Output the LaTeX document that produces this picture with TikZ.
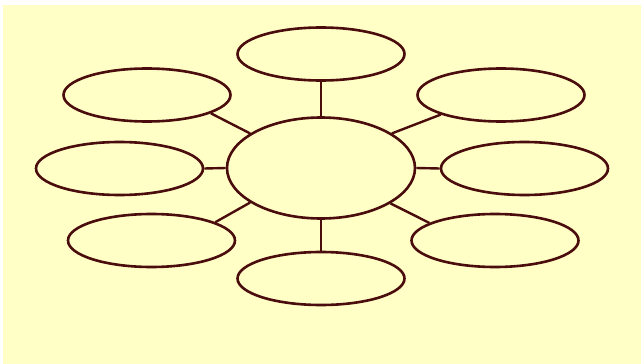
\documentclass[tikz,border=0pt]{standalone}
\usetikzlibrary{shapes.geometric}
\definecolor{cpaper}{HTML}{FFFFC6}
\definecolor{cbrown}{HTML}{4A0C0C}
\tikzset{
  every picture/.style={line width=2.6pt},
  bubble/.style={ellipse, draw=cbrown, minimum width=167pt, minimum height=53pt, inner sep=0pt},
  hub/.style={ellipse, draw=cbrown, minimum width=188pt, minimum height=101pt, inner sep=0pt},
  spoke/.style={draw=cbrown, line width=2.4pt},
}

\begin{document}
\begin{tikzpicture}[x=1pt, y=-1pt]
  % page and paper
  \useasboundingbox (0,0) rectangle (641,364);
  \fill[white] (0,0) rectangle (641,364);
  \fill[cpaper] (3,5) rectangle (641,364);
  % centre
  \node[hub] (hub) at (321,168) {};
  % ring of bubbles
  \node[bubble] (top) at (321,54) {};
  \node[bubble] (upleft) at (147,95) {};
  \node[bubble] (upright) at (501,95) {};
  \node[bubble] (left) at (119.5,168.5) {};
  \node[bubble] (right) at (524.5,168.5) {};
  \node[bubble] (lowleft) at (151.5,240.5) {};
  \node[bubble] (lowright) at (495,240.5) {};
  \node[bubble] (bottom) at (321,278.5) {};
  % spokes
  \foreach \b/\p/\q in {top/90/270, upleft/154/344, upright/26/198, left/180/0,
                        right/0/180, lowleft/206/16, lowright/333/165, bottom/270/90}
    \draw[spoke] (hub.\p) -- (\b.\q);
\end{tikzpicture}
\end{document}
